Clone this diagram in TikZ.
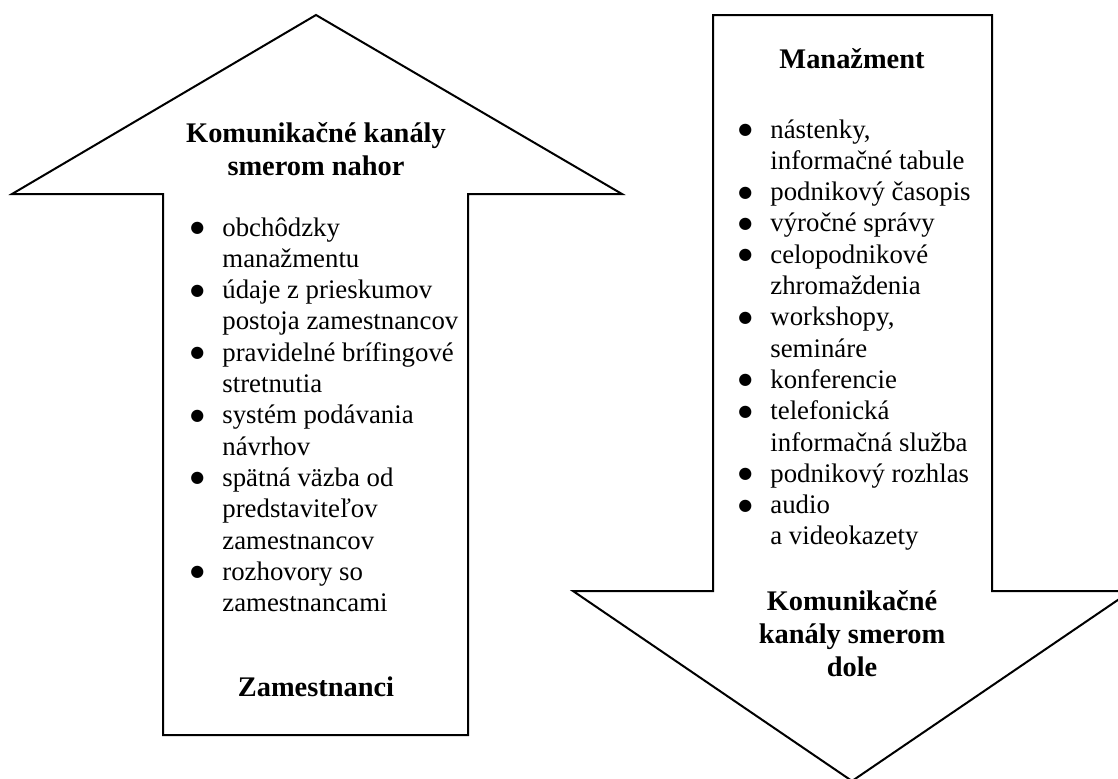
\documentclass[tikz,border=0pt]{standalone}
\usepackage{fontspec}
\setmainfont{Liberation Serif}
\newfontfamily\dotfont{DejaVu Sans}
\newcommand\bl{\makebox[25pt][c]{\raisebox{1.8pt}{\dotfont\fontsize{8pt}{8pt}\selectfont ●}}}
\tikzset{
  outline/.style={draw=black, line width=1pt, line join=miter, fill=white},
  body/.style={inner sep=0pt, anchor=base west, font=\fontsize{13.4pt}{15.65pt}\selectfont},
  head/.style={inner sep=0pt, anchor=base, font=\fontsize{14.2pt}{16.65pt}\selectfont\bfseries},
}
\begin{document}
\begin{tikzpicture}[x=0.5pt, y=-0.5pt]
  \useasboundingbox (0,0) rectangle (1118,778);
  \clip (0,0) rectangle (1118,778);

  % upward arrow
  \draw[outline] (316,15) -- (622,194) -- (468,194) -- (468,735)
    -- (163,735) -- (163,194) -- (12,194) -- cycle;

  % downward arrow
  \draw[outline] (713,15) -- (992,15) -- (992,591) -- (1131,591)
    -- (852,781) -- (573,591) -- (713,591) -- cycle;

  % upward channels
  \node[head] (uptitle) at (316,142)
    {\begin{tabular}[t]{@{}c@{}}Komunikačné kanály\\ smerom nahor\end{tabular}};
  \node[body] (uplist) at (172,236) {\begin{tabular}[t]{@{}l@{}l@{}}
    \bl & obchôdzky\\
        & manažmentu\\
    \bl & údaje z prieskumov\\
        & postoja zamestnancov\\
    \bl & pravidelné brífingové\\
        & stretnutia\\
    \bl & systém podávania\\
        & návrhov\\
    \bl & spätná väzba od\\
        & predstaviteľov\\
        & zamestnancov\\
    \bl & rozhovory so\\
        & zamestnancami
  \end{tabular}};
  \node[head] (employees) at (316,696) {Zamestnanci};

  % downward channels
  \node[head] (management) at (852,68) {Manažment};
  \node[body] (downlist) at (720,138) {\begin{tabular}[t]{@{}l@{}l@{}}
    \bl & nástenky,\\
        & informačné tabule\\
    \bl & podnikový časopis\\
    \bl & výročné správy\\
    \bl & celopodnikové\\
        & zhromaždenia\\
    \bl & workshopy,\\
        & semináre\\
    \bl & konferencie\\
    \bl & telefonická\\
        & informačná služba\\
    \bl & podnikový rozhlas\\
    \bl & audio\\
        & a videokazety
  \end{tabular}};
  \node[head] (downtitle) at (852,610)
    {\begin{tabular}[t]{@{}c@{}}Komunikačné\\ kanály smerom\\ dole\end{tabular}};
\end{tikzpicture}
\end{document}
